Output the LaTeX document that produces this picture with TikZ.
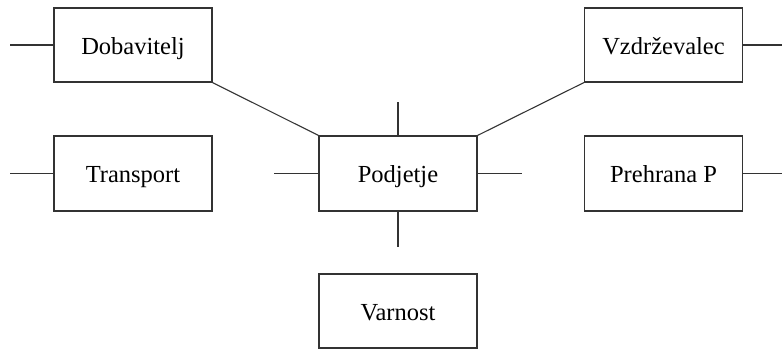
\documentclass[tikz,border=0pt]{standalone}
\usepackage{fontspec}
\setmainfont{Liberation Serif}
\begin{document}
\begin{tikzpicture}[x=1pt,y=-1pt,
  line/.style={draw=black!80, line width=1.1pt},
  unit/.style={line, rectangle, minimum width=158pt, minimum height=74pt,
    inner sep=0pt, text height=18pt, text depth=0pt,
    font=\fontsize{24.5}{28}\selectfont},
  stub/.style={line}]
\useasboundingbox (0,0) rectangle (782,349);
% boxes
\node[unit] (dob) at (133,45) {Dobavitelj};
\node[unit] (vzd) at (663.5,45) {Vzdrževalec};
\node[unit, minimum height=75pt] (tra) at (133,173.5) {Transport};
\node[unit, minimum height=75pt] (pod) at (398,173.5) {Podjetje};
\node[unit, minimum height=75pt] (pre) at (663.5,173.5) {Prehrana P};
\node[unit] (var) at (398,311) {Varnost};
% free ends of the short stubs
\coordinate (dobL) at (10,45);
\coordinate (vzdR) at (782,45);
\coordinate (traL) at (10,173.5);
\coordinate (preR) at (782,173.5);
\coordinate (podL) at (274,173.5);
\coordinate (podR) at (522,173.5);
\coordinate (podT) at (398,102);
\coordinate (podB) at (398,247);
% stubs
\draw[stub] (dob.west) -- (dobL);
\draw[stub] (vzd.east) -- (vzdR);
\draw[stub] (tra.west) -- (traL);
\draw[stub] (pre.east) -- (preR);
\draw[stub] (pod.west) -- (podL);
\draw[stub] (pod.east) -- (podR);
\draw[stub] (pod.north) -- (podT);
\draw[stub] (pod.south) -- (podB);
% diagonal links
\draw[line] (dob.south east) -- (pod.north west);
\draw[line] (vzd.south west) -- (pod.north east);
\end{tikzpicture}
\end{document}
